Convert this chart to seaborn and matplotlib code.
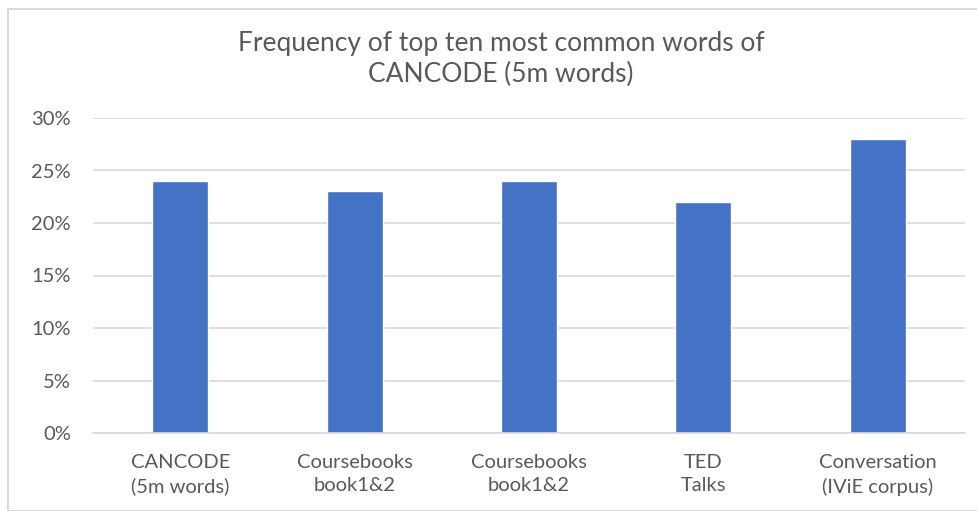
import matplotlib
matplotlib.use("Agg")
import matplotlib.pyplot as plt
import seaborn as sns
import pandas as pd
from matplotlib.patches import Rectangle
from matplotlib.ticker import PercentFormatter

categories = ["CANCODE\n(5m words)", "Coursebooks\nbook1&2", "Coursebooks\nbook1&2",
              "TED\nTalks", "Conversation\n(IViE corpus)"]
freq = [24, 23, 24, 22, 28]
yticks = [0, 5, 10, 15, 20, 25, 30]

df = pd.DataFrame({"cat": range(len(categories)), "freq": freq})

sns.set_theme(style="white")
plt.rcParams['font.family'] = ['Lato', 'DejaVu Sans']

fig = plt.figure(figsize=(9.78, 5.11), dpi=100)
ax = fig.add_axes([93 / 978, 1 - 433 / 511, 872 / 978, 315 / 511])

sns.barplot(data=df, x="cat", y="freq", color="#4472C4", width=0.32,
            saturation=1, ax=ax)

ax.set_ylim(0, 30)
ax.set_yticks(yticks)
ax.yaxis.set_major_formatter(PercentFormatter(decimals=0))
ax.set_xticks(range(len(categories)))
ax.set_xticklabels(categories, fontsize=14.5, color="#595959", linespacing=1.45)
ax.tick_params(axis="y", labelsize=14.5, labelcolor="#595959", length=0, pad=16)
ax.tick_params(axis="x", length=0, pad=15)
ax.grid(axis="y", color="#D9D9D9", linewidth=1.2)
ax.set_axisbelow(True)
for s in ["top", "right", "left"]:
    ax.spines[s].set_visible(False)
ax.spines["bottom"].set_color("#D9D9D9")
ax.spines["bottom"].set_linewidth(1.2)
ax.set_xlabel("")
ax.set_ylabel("")

fig.text(501 / 978, 1 - 59 / 511,
         "Frequency of top ten most common words of\nCANCODE (5m words)",
         ha="center", va="center", fontsize=19, color="#595959", linespacing=1.3)

fig.patches.append(Rectangle((8 / 978, 0), 1, 1 - 9 / 511, transform=fig.transFigure,
                             fill=False, edgecolor="#D9D9D9", linewidth=1.5))

fig.savefig("out.png", dpi=100)
